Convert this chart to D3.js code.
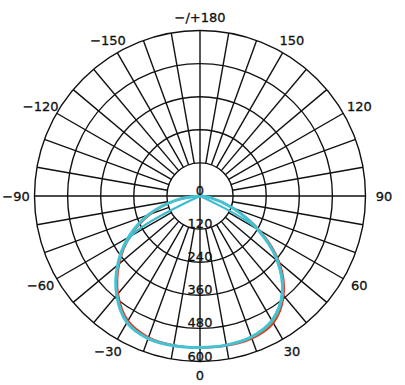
<!DOCTYPE html>
<html>
<head>
<meta charset="utf-8">
<script src="https://cdn.jsdelivr.net/npm/d3@7"></script>
<style>
  body { margin: 0; background: #fff; }
  text { font-family: "DejaVu Sans", sans-serif; font-size: 13px; fill: #111; stroke: #111; stroke-width: 0.3px; }
</style>
</head>
<body>
<svg id="polar"></svg>
<script>
// Angles (deg, 0 = down, positive towards the right)
const angles = [-90, -80, -70, -60, -50, -40, -30, -20, -10, 0, 10, 20, 30, 40, 50, 60, 70, 80, 90];

// Intensity per series (cd)
const redValues   = [0, 85, 190, 292, 382, 462, 522, 545, 549, 549, 551, 550, 532, 472, 376, 250, 128, 42, 0];
const greenValues = [0, 88, 195, 296, 386, 466, 527, 548, 550, 549, 550, 547, 527, 468, 371, 245, 126, 41, 0];
const cyanValues  = [0, 90, 200, 300, 390, 470, 530, 550, 551, 549, 549, 544, 522, 464, 367, 240, 125, 40, 0];
const tealValues  = [0, 0, 0, 285, 388, 468, 528, 549, 550, 549, 548, 543, 520, 462, 364, 238, 0, 0, 0];

const radialTicks = [120, 240, 360, 480, 600];
const radialLabels = ["0", "120", "240", "360", "480", "600"];
const angleTicks = [-150, -120, -90, -60, -30, 0, 30, 60, 90, 120, 150, 180];
const angleLabels = ["\u2212150", "\u2212120", "\u221290", "\u221260", "\u221230", "0", "30", "60", "90", "120", "150", "\u2212/+180"];

const width = 405;
const height = 385;
const cx = 200;
const cy = 196;

const svg = d3.select("#polar").attr("width", width).attr("height", height);
const g = svg.append("g").attr("transform", `translate(${cx},${cy})`);

const rScale = d3.scaleLinear().domain([0, 600]).range([0, 165.5]);
// d3 radial angle: 0 = up, clockwise. Here 0 = down, counterclockwise.
const aScale = d3.scaleLinear().domain([0, 180]).range([Math.PI, 0]);

const px = (a, r) => Math.sin(aScale(a)) * r;
const py = (a, r) => -Math.cos(aScale(a)) * r;

// rings
g.selectAll("circle.ring")
  .data(radialTicks)
  .enter()
  .append("circle")
  .attr("class", "ring")
  .attr("r", (d) => rScale(d))
  .attr("fill", "none")
  .attr("stroke", "#111")
  .attr("stroke-width", 1.4);

// spokes every 10 deg; the four main ones go through the centre
const spokes = d3.range(0, 360, 10);
g.selectAll("line.spoke")
  .data(spokes)
  .enter()
  .append("line")
  .attr("class", "spoke")
  .attr("x1", (d) => px(d, d % 90 === 0 ? 0 : rScale(120)))
  .attr("y1", (d) => py(d, d % 90 === 0 ? 0 : rScale(120)))
  .attr("x2", (d) => px(d, rScale(600)))
  .attr("y2", (d) => py(d, rScale(600)))
  .attr("stroke", "#111")
  .attr("stroke-width", 1.4);

// curves
const series = [
  { name: "red", values: redValues, color: "#e3352a", w: 2 },
  { name: "green", values: greenValues, color: "#7f9a3a", w: 1.5 },
  { name: "teal", values: tealValues, color: "#3bbccc", w: 2 },
  { name: "cyan", values: cyanValues, color: "#44c2d2", w: 3 },
];

const line = d3
  .lineRadial()
  .angle((d) => aScale(d.a))
  .radius((d) => rScale(d.v))
  .curve(d3.curveCatmullRom);

g.selectAll("path.series")
  .data(series)
  .enter()
  .append("path")
  .attr("class", "series")
  .attr("d", (s) => line(angles.map((a, i) => ({ a: a, v: s.values[i] }))))
  .attr("fill", "none")
  .attr("stroke", (s) => s.color)
  .attr("stroke-width", (s) => s.w)
  .attr("stroke-linejoin", "round");

// radial labels along the 0 direction
const radialPos = [0].concat(radialTicks);
g.selectAll("text.rlabel")
  .data(radialLabels)
  .enter()
  .append("text")
  .attr("class", "rlabel")
  .attr("x", 0)
  .attr("y", (d, i) => rScale(radialPos[i]) - 1)
  .attr("text-anchor", "middle")
  .text((d) => d);

// angle labels, pushed out a bit more sideways than vertically
const labelRx = 184;
const labelRy = 179;
g.selectAll("text.alabel")
  .data(angleTicks)
  .enter()
  .append("text")
  .attr("class", "alabel")
  .attr("x", (d) => px(d, labelRx))
  .attr("y", (d) => py(d, labelRy))
  .attr("text-anchor", "middle")
  .attr("dominant-baseline", "central")
  .text((d, i) => angleLabels[i]);
</script>
</body>
</html>
